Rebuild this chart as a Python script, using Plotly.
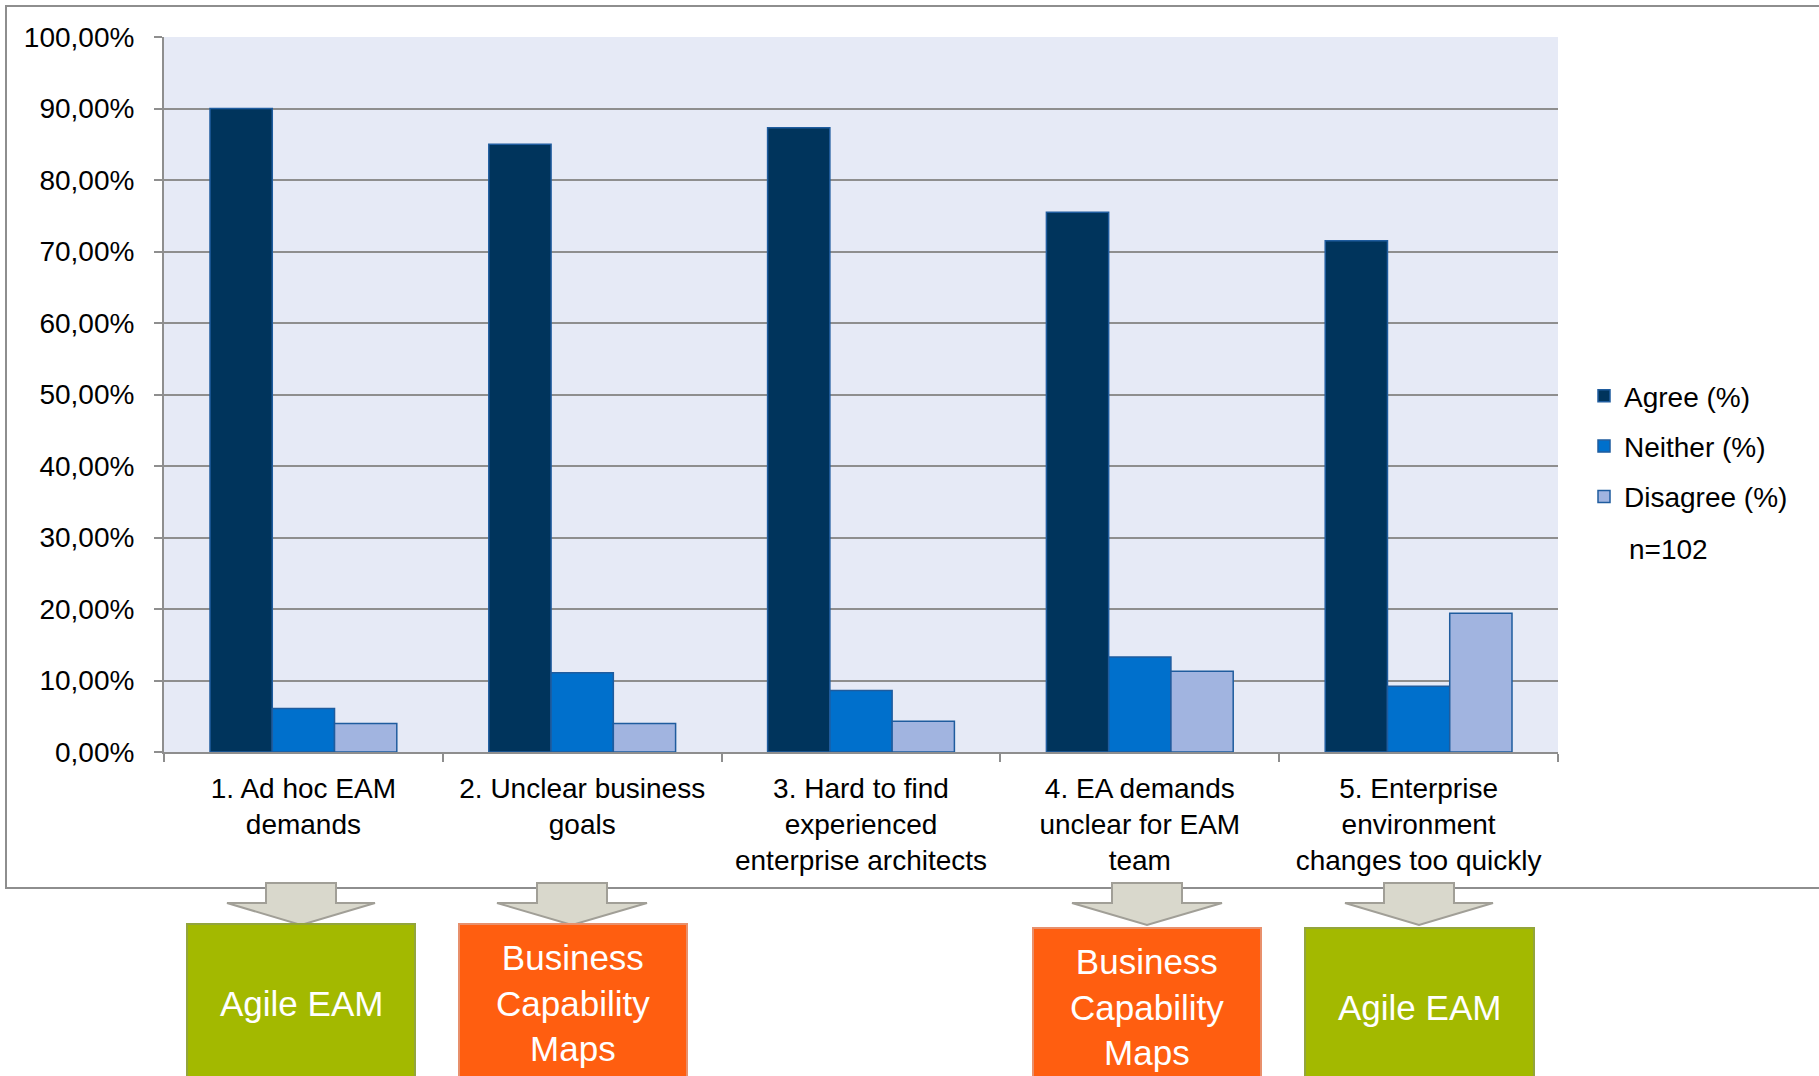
import plotly.graph_objects as go

# Survey results: challenges of enterprise architecture management
categories = [
    "1. Ad hoc EAM<br>demands",
    "2. Unclear business<br>goals",
    "3. Hard to find<br>experienced<br>enterprise architects",
    "4. EA demands<br>unclear for EAM<br>team",
    "5. Enterprise<br>environment<br>changes too quickly",
]
agree = [90.0, 85.0, 87.3, 75.5, 71.5]
neither = [6.1, 11.1, 8.6, 13.3, 9.2]
disagree = [4.0, 4.0, 4.3, 11.3, 19.4]
sample_note = "n=102"

# Proposed remedies placed under selected challenges
remedy_labels = ["Agile EAM", "Business<br>Capability<br>Maps", "Business<br>Capability<br>Maps", "Agile EAM"]

W, H = 1819, 1076
L, R, T, B = 164, 1558, 37, 752
FONT = "Liberation Sans, Arial, sans-serif"


def px(x):
    return (x - L) / (R - L)


def py(y):
    return (B - y) / (B - T)


fig = go.Figure()
series = [
    ("Agree (%)", agree, "#00345C"),
    ("Neither (%)", neither, "#0070CC"),
    ("Disagree (%)", disagree, "#A1B4E0"),
]
for name, vals, col in series:
    fig.add_trace(go.Bar(
        x=categories, y=vals, name=name, legendgroup=name,
        marker=dict(color=col, line=dict(color="#1F5C9E", width=1.5)),
        hoverinfo="skip",
    ))

shapes = []
# outer frame around the chart
shapes.append(dict(type="rect", xref="paper", yref="paper",
                   x0=px(6), x1=px(1840), y0=py(6), y1=py(888),
                   line=dict(color="#8E8E8E", width=2), fillcolor="rgba(0,0,0,0)",
                   layer="below"))

# block arrows: (center x, shaft half width, head half width)
arrows = [(301, 35, 74), (572, 35, 75), (1147, 35, 75), (1419, 35, 74)]
for cx, sw, hw in arrows:
    top, neck, tip = 883, 903, 925
    pts = [(cx - sw, top), (cx + sw, top), (cx + sw, neck), (cx + hw, neck),
           (cx, tip), (cx - hw, neck), (cx - sw, neck)]
    path = "M " + " L ".join(f"{px(x):.5f},{py(y):.5f}" for x, y in pts) + " Z"
    shapes.append(dict(type="path", xref="paper", yref="paper", path=path,
                       fillcolor="#D9D8CC", line=dict(color="#A19F97", width=2)))

# remedy boxes: (x0, x1, top, fill, border)
boxes = [
    (187, 415, 924, "#A3B900", "#93A53C"),
    (459, 687, 924, "#FF5E10", "#E8906C"),
    (1033, 1261, 928, "#FF5E10", "#E8906C"),
    (1305, 1534, 928, "#A3B900", "#93A53C"),
]
annotations = []
for (x0, x1, top, fill, border), label in zip(boxes, remedy_labels):
    shapes.append(dict(type="rect", xref="paper", yref="paper",
                       x0=px(x0), x1=px(x1), y0=py(top), y1=py(1120),
                       fillcolor=fill, line=dict(color=border, width=2)))
    annotations.append(dict(xref="paper", yref="paper",
                            x=px((x0 + x1) / 2), y=py(top + 79),
                            text=label, showarrow=False,
                            xanchor="center", yanchor="middle",
                            font=dict(family=FONT, size=35, color="white")))

annotations.append(dict(xref="paper", yref="paper", x=px(1627), y=py(549),
                        text=sample_note, showarrow=False,
                        xanchor="left", yanchor="middle",
                        font=dict(family=FONT, size=28, color="black")))

fig.update_layout(
    width=W, height=H,
    margin=dict(l=L, r=W - R, t=T, b=H - B, autoexpand=False),
    paper_bgcolor="white",
    plot_bgcolor="#E6EAF6",
    barmode="group",
    bargap=0.33,
    bargroupgap=0,
    separators=", ",
    font=dict(family=FONT, size=28, color="black"),
    showlegend=True,
    legend=dict(x=px(1584), y=py(371), xanchor="left", yanchor="top",
                font=dict(family=FONT, size=28, color="black"),
                tracegroupgap=11, itemwidth=30, bgcolor="rgba(0,0,0,0)"),
    shapes=shapes,
    annotations=annotations,
)
fig.update_xaxes(
    showline=True, linecolor="#8E8E8E", linewidth=2,
    ticks="outside", tickson="boundaries", ticklen=8, tickcolor="#8E8E8E", tickwidth=2,
    showgrid=False, tickfont=dict(family=FONT, size=28, color="black"),
    tickangle=0, ticklabelstandoff=10,
)
fig.update_yaxes(
    range=[0, 100], dtick=10, tick0=0,
    tickformat=".2f", ticksuffix="%",
    showline=True, linecolor="#8E8E8E", linewidth=2,
    ticks="outside", ticklen=8, tickcolor="#8E8E8E", tickwidth=2,
    showgrid=True, gridcolor="#8E8E8E", gridwidth=2,
    zeroline=False,
    ticklabelstandoff=14,
    tickfont=dict(family=FONT, size=28, color="black"),
)

fig.write_html("out.html")
